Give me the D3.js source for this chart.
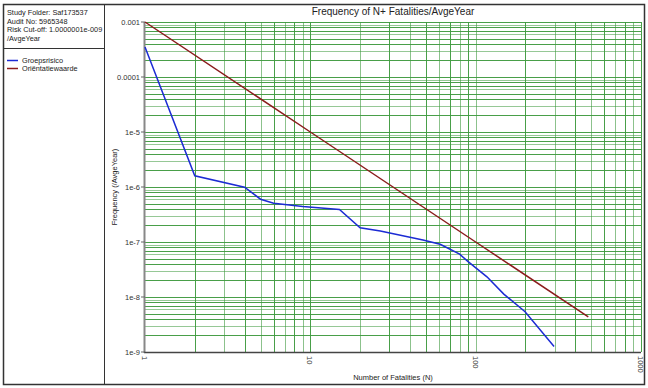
<!DOCTYPE html>
<html lang="en">
<head>
    <meta charset="UTF-8">
    <title>Frequency of N+ Fatalities/AvgeYear</title>
    <script src="https://d3js.org/d3.v7.min.js"></script>
    <style>
        body { margin: 0; background: #fff; }
        svg text { font-family: "Liberation Sans", Arial, sans-serif; }
    </style>
</head>
<body>
    <div id="chart"></div>

    <script>
        // Header info
        const headerLines = ["Study Folder: Saf173537", "Audit No: 5965348", "Risk Cut-off: 1.0000001e-009", "/AvgeYear"];

        // Groepsrisico (FN curve)
        const groepN = [1, 2, 4, 5, 6, 9, 15, 20, 26.5, 48, 61, 80, 90, 117, 148, 199, 298];
        const groepF = [3.5e-4, 1.6e-6, 9.9e-7, 6.0e-7, 5.05e-7, 4.4e-7, 3.9e-7, 1.82e-7, 1.58e-7,
                        1.09e-7, 9.1e-8, 6.0e-8, 4.4e-8, 2.33e-8, 1.13e-8, 5.4e-9, 1.26e-9];

        // Oriëntatiewaarde (1e-3 / N^2)
        const orientN = [1, 10, 100, 480];
        const orientF = [1e-3, 1e-5, 1e-7, 4.35e-9];

        const yTicks = [1e-3, 1e-4, 1e-5, 1e-6, 1e-7, 1e-8, 1e-9];
        const yTickLabels = ["0.001", "0.0001", "1e-5", "1e-6", "1e-7", "1e-8", "1e-9"];
        const xTicks = [1, 10, 100, 1000];
        const xTickLabels = ["1", "10", "100", "1000"];

        const series = [
            { name: "Groepsrisico", color: "#1c2bd4", n: groepN, f: groepF },
            { name: "Oriëntatiewaarde", color: "#8b1c1c", n: orientN, f: orientF }
        ];

        const width = 648, height = 388;
        const plot = { left: 145, right: 641, top: 22, bottom: 352 };

        const svg = d3.select("#chart").append("svg")
            .attr("width", width)
            .attr("height", height);

        // frame
        const frame = svg.append("g").attr("stroke", "#333").attr("fill", "none");
        frame.append("rect").attr("x", 3.5).attr("y", 4.5).attr("width", 641).attr("height", 380).attr("stroke-width", 1.5);
        frame.append("line").attr("x1", 104.5).attr("x2", 104.5).attr("y1", 4).attr("y2", 385);
        frame.append("line").attr("x1", 3).attr("x2", 104).attr("y1", 48.5).attr("y2", 48.5);

        // header text
        svg.append("g").selectAll("text")
            .data(headerLines)
            .join("text")
            .attr("x", 7)
            .attr("y", (d, i) => 15 + i * 8.7)
            .attr("font-size", 7.3)
            .attr("fill", "#222")
            .text(d => d);

        // legend
        const legend = svg.append("g").selectAll("g")
            .data(series)
            .join("g")
            .attr("transform", (d, i) => `translate(7,${63 + i * 8})`);
        legend.append("line")
            .attr("x1", 0).attr("x2", 11)
            .attr("y1", -2.5).attr("y2", -2.5)
            .attr("stroke", d => d.color)
            .attr("stroke-width", 1.5);
        legend.append("text")
            .attr("x", 15)
            .attr("font-size", 7.3)
            .attr("fill", "#222")
            .text(d => d.name);

        const x = d3.scaleLog().domain([1, 1000]).range([plot.left, plot.right]);
        const y = d3.scaleLog().domain([1e-9, 1e-3]).range([plot.bottom, plot.top]);

        // minor values
        const xGrid = [];
        for (let dec = 1; dec < 1000; dec *= 10)
            for (let k = 1; k <= 9; k++) if (dec * k > 1) xGrid.push(dec * k);
        xGrid.push(1000);
        const yGrid = [];
        for (let dec = 1e-9; dec < 1e-3 * 0.99; dec *= 10)
            for (let k = 1; k <= 9; k++) if (k > 1 || dec > 1.1e-9) yGrid.push(dec * k);
        yGrid.push(1e-3);

        const grid = svg.append("g").attr("stroke", "#3f9a3f").attr("stroke-width", 1);
        grid.selectAll(".vx").data(xGrid).join("line")
            .attr("x1", d => Math.round(x(d)) + 0.5).attr("x2", d => Math.round(x(d)) + 0.5)
            .attr("y1", plot.top).attr("y2", plot.bottom)
            .attr("stroke-opacity", (d, i) => i % 2 ? 0.6 : 0.95);
        grid.selectAll(".hy").data(yGrid).join("line")
            .attr("x1", plot.left).attr("x2", plot.right)
            .attr("y1", d => Math.round(y(d)) + 0.5).attr("y2", d => Math.round(y(d)) + 0.5)
            .attr("stroke-opacity", (d, i) => i % 3 === 1 ? 0.55 : 0.95);

        // axes lines
        svg.append("line")
            .attr("x1", plot.left - 0.5).attr("x2", plot.left - 0.5)
            .attr("y1", plot.top).attr("y2", plot.bottom + 1)
            .attr("stroke", "#888").attr("stroke-width", 2);
        svg.append("line")
            .attr("x1", plot.left - 1).attr("x2", plot.right)
            .attr("y1", plot.bottom + 0.5).attr("y2", plot.bottom + 0.5)
            .attr("stroke", "#444").attr("stroke-width", 1.5);

        // y ticks
        svg.append("g").selectAll("line")
            .data(yTicks).join("line")
            .attr("x1", plot.left - 4).attr("x2", plot.left)
            .attr("y1", d => y(d)).attr("y2", d => y(d))
            .attr("stroke", "#666");
        svg.append("g").selectAll("text")
            .data(yTicks).join("text")
            .attr("x", plot.left - 5)
            .attr("y", d => y(d) + 3)
            .attr("text-anchor", "end")
            .attr("font-size", 7.5)
            .attr("fill", "#333")
            .text((d, i) => yTickLabels[i]);

        // x ticks
        svg.append("g").selectAll("text")
            .data(xTicks).join("text")
            .attr("transform", d => `translate(${x(d) - 3},${plot.bottom + 4}) rotate(90)`)
            .attr("font-size", 7.5)
            .attr("fill", "#333")
            .text((d, i) => xTickLabels[i]);

        // series lines
        const line = d3.line().x(d => x(d[0])).y(d => y(d[1]));
        svg.append("g").selectAll("path")
            .data(series).join("path")
            .attr("d", s => line(s.n.map((n, i) => [n, s.f[i]])))
            .attr("fill", "none")
            .attr("stroke", s => s.color)
            .attr("stroke-width", 1.5);

        // titles
        svg.append("text")
            .attr("x", (plot.left + plot.right) / 2)
            .attr("y", 15)
            .attr("text-anchor", "middle")
            .attr("font-size", 10)
            .attr("fill", "#222")
            .text("Frequency of N+ Fatalities/AvgeYear");
        svg.append("text")
            .attr("x", (plot.left + plot.right) / 2)
            .attr("y", 380)
            .attr("text-anchor", "middle")
            .attr("font-size", 7.5)
            .attr("fill", "#222")
            .text("Number of Fatalities (N)");
        svg.append("text")
            .attr("transform", `translate(117,${(plot.top + plot.bottom) / 2}) rotate(-90)`)
            .attr("text-anchor", "middle")
            .attr("font-size", 7.5)
            .attr("fill", "#222")
            .text("Frequency (/AvgeYear)");
    </script>
</body>
</html>
